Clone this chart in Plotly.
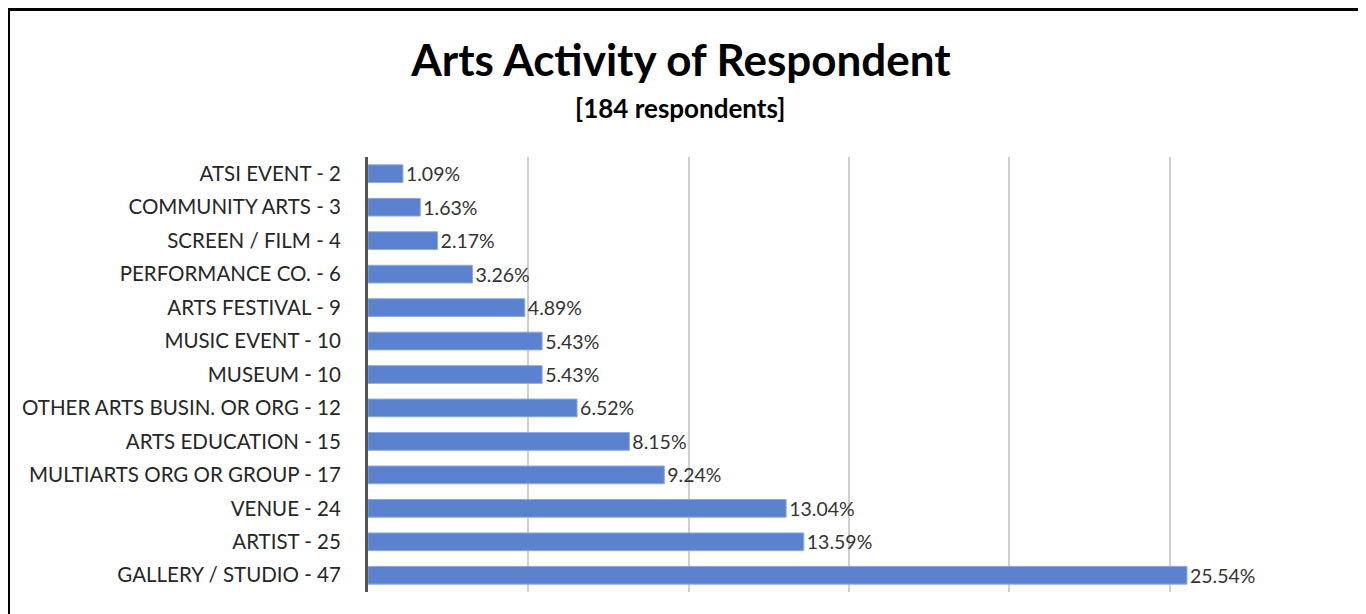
import plotly.graph_objects as go

# data (top to bottom)
activities = [
    "ATSI EVENT", "COMMUNITY ARTS", "SCREEN / FILM", "PERFORMANCE CO.",
    "ARTS FESTIVAL", "MUSIC EVENT", "MUSEUM", "OTHER ARTS BUSIN. OR ORG",
    "ARTS EDUCATION", "MULTIARTS ORG OR GROUP", "VENUE", "ARTIST",
    "GALLERY / STUDIO",
]
counts = [2, 3, 4, 6, 9, 10, 10, 12, 15, 17, 24, 25, 47]
percents = [1.09, 1.63, 2.17, 3.26, 4.89, 5.43, 5.43, 6.52, 8.15, 9.24,
            13.04, 13.59, 25.54]

W, H = 1366, 614
FONT = "Lato, 'Open Sans', sans-serif"
OFF = 8  # the page body adds an 8px margin around the figure

labels = [f"{a} - {c}" for a, c in zip(activities, counts)]

fig = go.Figure(go.Bar(
    x=percents,
    y=labels,
    orientation="h",
    width=0.53,
    marker=dict(color="#5b82cf", line=dict(color="#8eaadf", width=1)),
    text=[f"{p:.2f}%" for p in percents],
    textposition="outside",
    constraintext="none",
    cliponaxis=False,
    textfont=dict(family=FONT, size=19.5, color="#333333"),
    hoverinfo="skip",
))

# plot area in figure pixels (page pixels minus the body margin)
L, R, T, B = 368 - OFF, 1330 - OFF, 157 - OFF, 592 - OFF


def py(page_y):
    # page pixel row -> paper y
    return (B - (page_y - OFF)) / (B - T)


def px(page_x):
    return ((page_x - OFF) - L) / (R - L)


fig.update_layout(
    width=W, height=H,
    margin=dict(l=L, r=W - R, t=T, b=H - B),
    paper_bgcolor="white", plot_bgcolor="white",
    showlegend=False,
    font=dict(family=FONT, color="#262626"),
    title=dict(
        text="<b>Arts Activity of Respondent</b>",
        x=px(681), xanchor="center", xref="paper",
        y=1 - (61 - OFF) / H, yanchor="middle", yref="container",
        font=dict(family=FONT, size=44, color="black"),
    ),
)
fig.add_annotation(
    text="<b>[184 respondents]</b>",
    x=px(680), xref="paper", xanchor="center",
    y=py(108), yref="paper", yanchor="middle",
    showarrow=False,
    font=dict(family=FONT, size=26, color="black"),
)

fig.update_xaxes(
    range=[0, 30], dtick=5, showgrid=True, gridcolor="#cfcfcf", gridwidth=1.5,
    showticklabels=False, zeroline=False, fixedrange=True,
)
fig.update_yaxes(
    autorange="reversed", showline=True, linecolor="#555555", linewidth=3,
    ticks="", ticklabelstandoff=20, showgrid=False,
    tickfont=dict(family=FONT, size=20.5, color="#262626"),
    fixedrange=True,
)

# outer frame (bottom edge runs off the page)
fig.add_shape(
    type="rect", xref="paper", yref="paper",
    x0=px(8.5), x1=px(1359.5), y0=py(660), y1=py(9.5),
    line=dict(color="black", width=3), fillcolor="rgba(0,0,0,0)", layer="above",
)

fig.write_html("out.html")
